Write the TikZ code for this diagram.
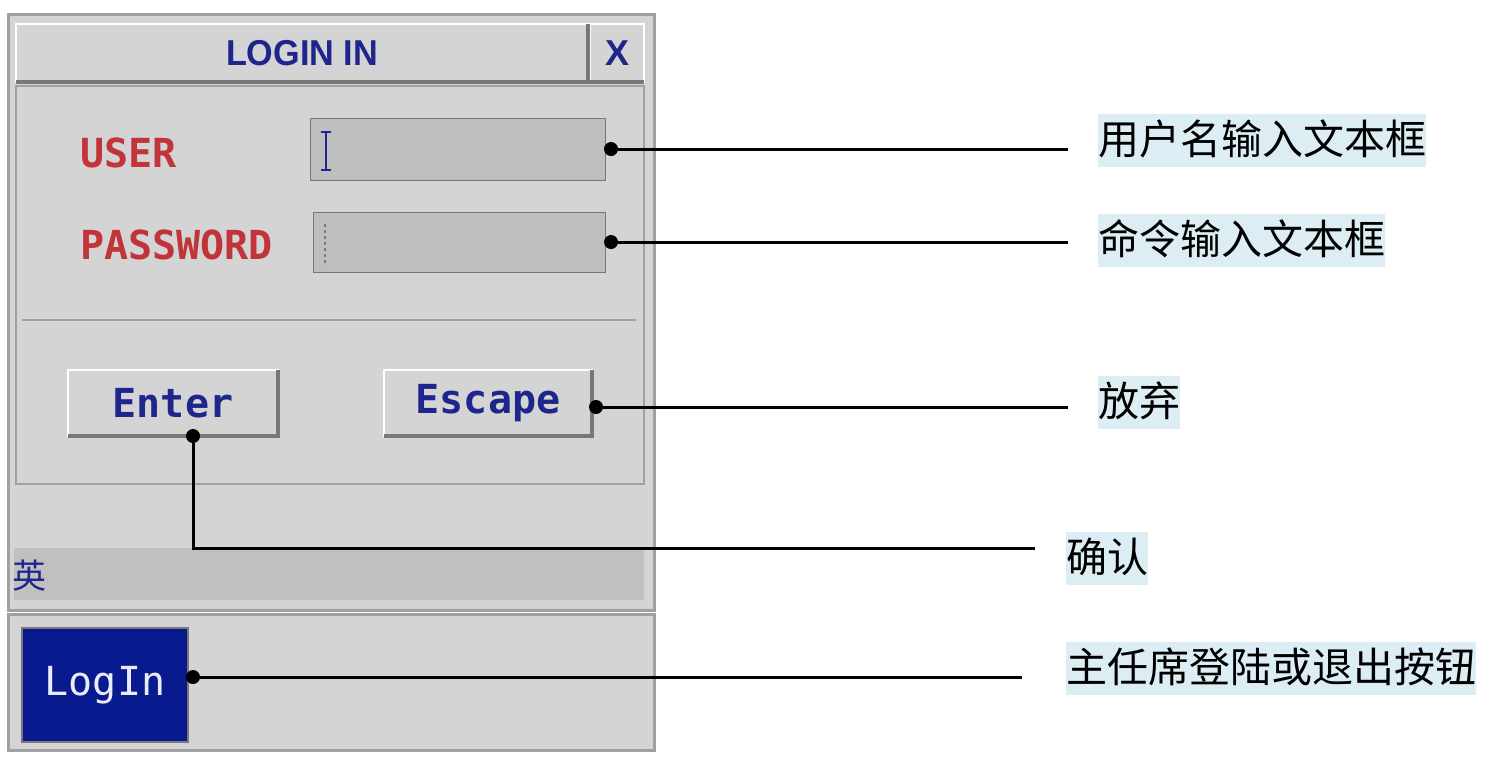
\documentclass[tikz,border=0pt]{standalone}
\usepackage{fontspec}
\usepackage{graphicx}
\setmonofont{DejaVu Sans Mono}
\newfontfamily\cjk{Noto Sans CJK SC}
\newfontfamily\titlefont{Liberation Sans}
\usetikzlibrary{positioning}
\definecolor{winbg}{RGB}{212,212,212}
\definecolor{fieldbg}{RGB}{190,190,190}
\definecolor{edge}{RGB}{160,160,160}
\definecolor{dark}{RGB}{120,120,120}
\definecolor{navy}{RGB}{30,38,140}
\definecolor{redtxt}{RGB}{192,52,58}
\definecolor{btnblue}{RGB}{8,26,142}
\definecolor{tagbg}{RGB}{220,237,243}
\definecolor{barbg}{RGB}{192,192,192}
\tikzset{
  box/.style={anchor=north west, inner sep=0pt, outer sep=0pt},
  frame/.style={box, draw=edge, line width=3pt, fill=winbg},
  raised/.style={box, draw=white, line width=1.5pt, fill=winbg},
  field/.style={box, fill=fieldbg, draw=dark, line width=1pt},
  bevel/.style={draw=dark, line width=3.5pt},
  uitext/.style={font=\ttfamily\bfseries\fontsize{40}{40}\selectfont, inner sep=0pt},
  tag/.style={anchor=west, fill=tagbg, inner xsep=0pt, inner ysep=5pt,
    text height=36pt, text depth=7pt, font=\cjk\fontsize{41}{41}\selectfont},
  dot/.style={circle, fill=black, inner sep=0pt, minimum size=14pt},
  wire/.style={line width=3pt}
}
\begin{document}
\begin{tikzpicture}[x=1pt,y=-1pt]
  \useasboundingbox[fill=white] (0,0) rectangle (1506,764);
  % dialog
  \node[frame, minimum width=646, minimum height=596] (dlg) at (8,14) {};
  \node[raised, minimum width=572, minimum height=58,
    font=\titlefont\bfseries\fontsize{36}{36}\selectfont, text=navy] (title) at (16,24)
    {\scalebox{0.95}[1]{LOGIN IN}};
  \node[raised, minimum width=54, minimum height=58,
    font=\titlefont\bfseries\fontsize{36}{36}\selectfont, text=navy] (close) at (590,24) {X};
  \draw[bevel] (title.south west) -- (title.south east) -- (title.north east);
  \draw[bevel] (close.south west) -- (close.south east);
  \node[box, draw=edge, line width=2pt, minimum width=628, minimum height=398] (body) at (16,86) {};
  \draw[edge, line width=2pt] (22,320) -- (636,320);
  % fields
  \node[uitext, anchor=west, text=redtxt] (user) at (80,153) {USER};
  \node[uitext, anchor=west, text=redtxt] (pass) at (80,245) {PASSWORD};
  \node[field, minimum width=295, minimum height=62] (userbox) at (310,118) {};
  \node[field, minimum width=292, minimum height=60] (passbox) at (313,212) {};
  \draw[navy, line width=2.5pt] (321,132) -- (331,132) (326,132) -- (326,170) (321,170) -- (331,170);
  \draw[dark, line width=2pt, dash pattern=on 3pt off 3pt] (325,224) -- (325,266);
  % buttons
  \node[raised, minimum width=210, minimum height=66, text=navy, uitext] (enter) at (68,370) {Enter};
  \node[raised, minimum width=208, minimum height=66, text=navy, uitext] (escape) at (384,370) {Escape};
  \draw[bevel] (enter.south west) -- (enter.south east) -- (enter.north east);
  \draw[bevel] (escape.south west) -- (escape.south east) -- (escape.north east);
  % input bar
  \node[box, fill=barbg, minimum width=630, minimum height=52] (imebar) at (14,548) {};
  \node[anchor=west, inner sep=0pt, text=navy, font=\cjk\fontsize{34}{34}\selectfont] (ime) at (12,576) {英};
  % taskbar
  \node[frame, minimum width=646, minimum height=136] (task) at (8,614) {};
  \node[box, fill=btnblue, draw=dark, line width=2pt, minimum width=166, minimum height=114,
    text=white!92!blue, uitext, font=\ttfamily\mdseries\fontsize{40}{40}\selectfont,
    anchor=north west] (login) at (22,628) {LogIn};
  % callouts
  \node[tag] (tuser) at (1098,140) {用户名输入文本框};
  \node[tag] (tpass) at (1098,240) {命令输入文本框};
  \node[tag] (tesc) at (1098,402) {放弃};
  \node[tag] (tok) at (1066,558) {确认};
  \node[tag] (tlog) at (1066,668) {主任席登陆或退出按钮};
  \node[dot] (udot) at ([xshift=6pt]userbox.east) {};
  \node[dot] (pdot) at ([xshift=6pt]passbox.east) {};
  \node[dot] (sdot) at ([xshift=4pt,yshift=-4pt]escape.east) {};
  \node[dot] (edot) at ([xshift=20pt]enter.south) {};
  \node[dot] (ldot) at ([xshift=5pt,yshift=8pt]login.east) {};
  \draw[wire] (udot) -- ([xshift=-30pt]tuser.west |- udot);
  \draw[wire] (pdot) -- ([xshift=-30pt]tpass.west |- pdot);
  \draw[wire] (sdot) -- ([xshift=-30pt]tesc.west |- sdot);
  \draw[wire] (edot) |- ([xshift=-31pt,yshift=10pt]tok.west);
  \draw[wire] (ldot) -- ([xshift=-44pt]tlog.west |- ldot);
\end{tikzpicture}
\end{document}
